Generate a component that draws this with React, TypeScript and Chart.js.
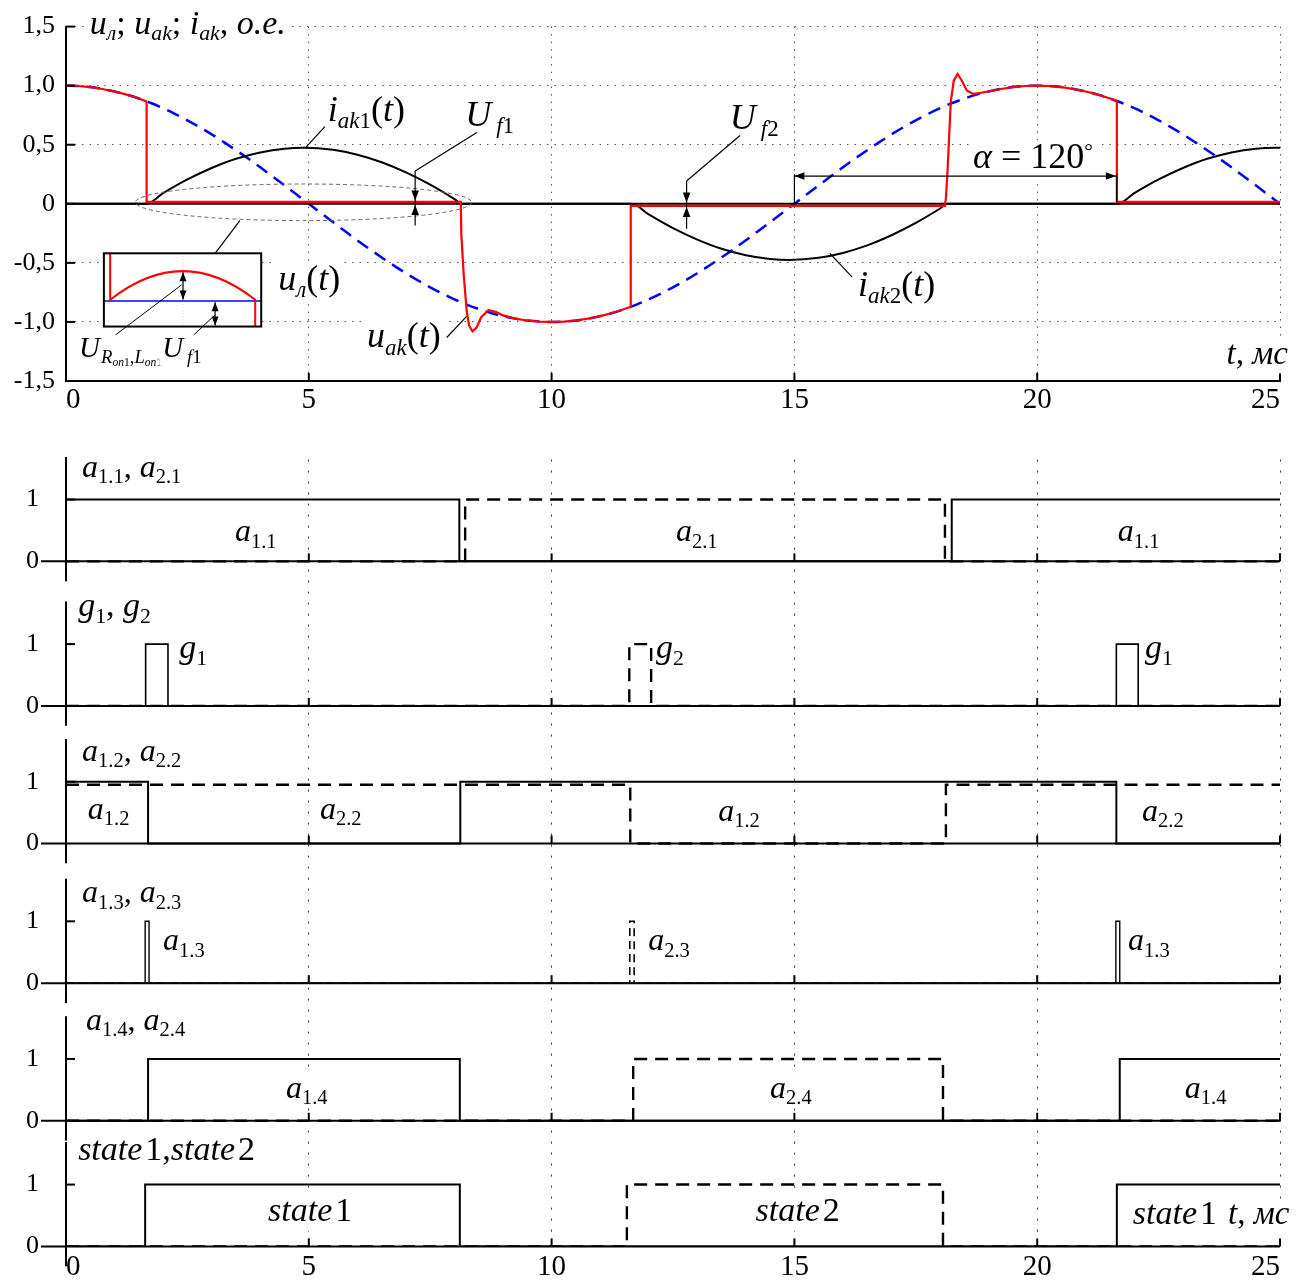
import React, { useEffect, useRef } from 'react';
import { Chart, registerables } from 'chart.js';

Chart.register(...registerables);

const SERIF = '"Liberation Serif", "Times New Roman", serif';
const RED = '#ff0000';
const BLUE = '#0000ff';

// ---------- Upper plot: voltages and currents, t in ms, values in p.u. ----------
const SAMPLE_STEP_MS = 0.25;

// line voltage u_л, one sample every 0.25 ms from 0 to 25 ms
const uLine = [
  1.000, 0.997, 0.988, 0.972, 0.951, 0.924, 0.891, 0.853, 0.809, 0.760, 0.707, 0.649, 0.588, 0.522, 0.454, 0.383, 0.309, 0.233, 0.156, 0.078, 0.000,
  -0.078, -0.156, -0.233, -0.309, -0.383, -0.454, -0.522, -0.588, -0.649, -0.707, -0.760, -0.809, -0.853, -0.891, -0.924, -0.951, -0.972, -0.988, -0.997, -1.000,
  -0.997, -0.988, -0.972, -0.951, -0.924, -0.891, -0.853, -0.809, -0.760, -0.707, -0.649, -0.588, -0.522, -0.454, -0.383, -0.309, -0.233, -0.156, -0.078, 0.000,
  0.078, 0.156, 0.233, 0.309, 0.383, 0.454, 0.522, 0.588, 0.649, 0.707, 0.760, 0.809, 0.853, 0.891, 0.924, 0.951, 0.972, 0.988, 0.997, 1.000,
  0.997, 0.988, 0.972, 0.951, 0.924, 0.891, 0.853, 0.809, 0.760, 0.707, 0.649, 0.588, 0.522, 0.454, 0.383, 0.309, 0.233, 0.156, 0.078, 0.000,
];

// anode-cathode voltage u_ak
const uAkTime = [
  0, 0.25, 0.5, 0.75, 1.0, 1.25, 1.5, 1.66, 1.66,
  8.13, 8.14, 8.19, 8.25, 8.3, 8.37, 8.45, 8.55, 8.7, 8.85, 9.0,
  9.25, 9.5, 9.75, 10, 10.25, 10.5, 10.75, 11, 11.25, 11.5, 11.63, 11.63,
  18.1, 18.12, 18.15, 18.19, 18.22, 18.28, 18.36, 18.45, 18.55, 18.68, 18.85, 19.0,
  19.25, 19.5, 19.75, 20, 20.25, 20.5, 20.75, 21, 21.25, 21.5, 21.64, 21.64, 25,
];
const uAkValue = [
  1.000, 0.997, 0.988, 0.972, 0.951, 0.924, 0.891, 0.866, 0.017,
  0.017, -0.25, -0.6, -0.9, -1.03, -1.08, -1.05, -0.96, -0.9, -0.915, -0.945,
  -0.972, -0.988, -0.997, -1.000, -0.997, -0.988, -0.972, -0.951, -0.924, -0.891, -0.871, -0.017,
  -0.017, 0.05, 0.25, 0.6, 0.86, 1.04, 1.10, 1.04, 0.96, 0.93, 0.94, 0.951,
  0.972, 0.988, 0.997, 1.000, 0.997, 0.988, 0.972, 0.951, 0.924, 0.891, 0.870, 0.017, 0.017,
];

// anode current i_ak (thyristor 1 positive, thyristor 2 negative)
const iAkTime = [
  0, 1.65, 2.0, 2.5, 3.0, 3.5, 4.0, 4.5, 4.9, 5.5, 6.0, 6.5, 7.0, 7.5, 8.0, 8.15,
  11.65, 12.0, 12.5, 13.0, 13.5, 14.0, 14.5, 14.9, 15.5, 16.0, 16.5, 17.0, 17.5, 18.0, 18.15,
  21.65, 22.0, 22.5, 23.0, 23.5, 24.0, 24.5, 24.9, 25,
];
const iAkValue = [
  0, 0, 0.090, 0.206, 0.303, 0.381, 0.435, 0.467, 0.475, 0.457, 0.416, 0.352, 0.266, 0.162, 0.040, 0,
  0, -0.090, -0.206, -0.303, -0.381, -0.435, -0.467, -0.475, -0.457, -0.416, -0.352, -0.266, -0.162, -0.040, 0,
  0, 0.090, 0.206, 0.303, 0.381, 0.435, 0.467, 0.475, 0.475,
];

const TIME_TICKS = [0, 5, 10, 15, 20, 25];
const VOLT_TICKS = [-1.5, -1, -0.5, 0, 0.5, 1, 1.5];
const VOLT_LABELS = ['-1,5', '-1,0', '-0,5', '0', '0,5', '1,0', '1,5'];

// ---------- Lower plot: logic signals (switching instants in ms, level held from each instant) ----------
const a11Time = [0, 8.1, 18.24, 25];
const a11Level = [1, 0, 1, 1];
const a21Time = [0, 8.22, 18.1, 25];
const a21Level = [0, 1, 0, 0];

const g1Time = [0, 1.64, 2.1, 21.63, 22.08, 25];
const g1Level = [0, 1, 0, 1, 0, 0];
const g2Time = [0, 11.6, 12.05, 25];
const g2Level = [0, 1, 0, 0];

const a12Time = [0, 1.69, 8.12, 21.63, 25];
const a12Level = [1, 0, 1, 0, 0];
const a22Time = [0, 11.62, 18.12, 25];
const a22Level = [0.95, 0, 0.95, 0.95];

const a13Time = [0, 1.63, 1.71, 21.62, 21.7, 25];
const a13Level = [0, 1, 0, 1, 0, 0];
const a23Time = [0, 11.61, 11.7, 25];
const a23Level = [0, 1, 0, 0];

const a14Time = [0, 1.69, 8.11, 21.7, 25];
const a14Level = [0, 1, 0, 1, 1];
const a24Time = [0, 11.68, 18.06, 25];
const a24Level = [0, 1, 0, 0];

const state1Time = [0, 1.63, 8.11, 21.64, 25];
const state1Level = [0, 1, 0, 1, 1];
const state2Time = [0, 11.55, 18.06, 25];
const state2Level = [0, 1, 0, 0];

// vertical placement of each signal strip on the shared lower y scale (1 unit = one logic level)
const PANEL_BASE = [11.08, 8.742, 6.516, 4.258, 2.032, 0];
const LOWER_Y_MAX = 12.726;

// ---------- text helpers ----------
type Run = { s: string; it?: boolean; sub?: 1 | 2; sup?: boolean; gap?: number };

function runStyle(r: Run, size: number) {
  let sz = size;
  let dy = 0;
  if (r.sub === 1) { sz = size * 0.64; dy = size * 0.2; }
  else if (r.sub === 2) { sz = size * 0.4; dy = size * 0.3; }
  else if (r.sup) { sz = size * 0.6; dy = -size * 0.28; }
  return { font: `${r.it ? 'italic ' : ''}${sz.toFixed(1)}px ${SERIF}`, dy };
}

function drawRich(ctx: CanvasRenderingContext2D, x: number, y: number, runs: Run[], size: number, bg: boolean) {
  ctx.save();
  ctx.textAlign = 'left';
  ctx.textBaseline = 'alphabetic';
  const widths = runs.map((r) => {
    const st = runStyle(r, size);
    ctx.font = st.font;
    return ctx.measureText(r.s).width + (r.gap || 0);
  });
  const total = widths.reduce((a, b) => a + b, 0);
  if (bg) {
    ctx.fillStyle = '#fff';
    ctx.fillRect(x - 3, y - size * 0.78, total + 6, size * 1.06);
  }
  ctx.fillStyle = '#000';
  let cx = x;
  runs.forEach((r, i) => {
    const st = runStyle(r, size);
    ctx.font = st.font;
    ctx.fillText(r.s, cx + (r.gap || 0), y + st.dy);
    cx += widths[i];
  });
  ctx.restore();
}

function strokeLine(ctx: CanvasRenderingContext2D, x1: number, y1: number, x2: number, y2: number) {
  ctx.beginPath();
  ctx.moveTo(x1, y1);
  ctx.lineTo(x2, y2);
  ctx.stroke();
}

function arrowHead(ctx: CanvasRenderingContext2D, x: number, y: number, dir: string, len = 10, half = 3.8) {
  ctx.beginPath();
  ctx.moveTo(x, y);
  if (dir === 'down') { ctx.lineTo(x - half, y - len); ctx.lineTo(x + half, y - len); }
  else if (dir === 'up') { ctx.lineTo(x - half, y + len); ctx.lineTo(x + half, y + len); }
  else if (dir === 'left') { ctx.lineTo(x + len, y - half); ctx.lineTo(x + len, y + half); }
  else { ctx.lineTo(x - len, y - half); ctx.lineTo(x - len, y + half); }
  ctx.closePath();
  ctx.fill();
}

const it = (s: string): Run => ({ s, it: true });
const up = (s: string): Run => ({ s });
const sub = (s: string, italic = false): Run => ({ s, it: italic, sub: 1 });

// ---------- annotations of the upper plot (positions in data units) ----------
const TOP_LABELS: { t: number; v: number; size: number; runs: Run[] }[] = [
  { t: 0.49, v: 1.44, size: 34, runs: [it('u'), sub('л', true), up('; '), it('u'), sub('ak', true), up('; '), it('i'), sub('ak', true), up(', '), it('o.e.')] },
  { t: 5.39, v: 0.704, size: 36, runs: [it('i'), sub('ak', true), sub('1'), up('('), it('t'), up(')')] },
  { t: 8.22, v: 0.662, size: 36, runs: [it('U'), { s: 'f', it: true, sub: 1, gap: 5 }, sub('1')] },
  { t: 4.37, v: -0.729, size: 36, runs: [it('u'), sub('л', true), up('('), it('t'), up(')')] },
  { t: 6.2, v: -1.215, size: 36, runs: [it('u'), sub('ak', true), up('('), it('t'), up(')')] },
  { t: 13.67, v: 0.637, size: 36, runs: [it('U'), { s: 'f', it: true, sub: 1, gap: 5 }, sub('2')] },
  { t: 18.68, v: 0.302, size: 36, runs: [it('α'), up(' = 120'), { s: '°', sup: true }] },
  { t: 16.31, v: -0.78, size: 36, runs: [it('i'), sub('ak', true), sub('2'), up('('), it('t'), up(')')] },
  { t: 23.9, v: -1.358, size: 33, runs: [it('t'), up(', '), it('мс')] },
  { t: 0.27, v: -1.30, size: 29, runs: [it('U'), { s: 'R', it: true, sub: 1, gap: 1 }, { s: 'on', it: true, sub: 2 }, { s: '1', sub: 2 }, sub(','), sub('L', true), { s: 'on', it: true, sub: 2 }, { s: '1', sub: 2 }] },
  { t: 1.98, v: -1.30, size: 29, runs: [it('U'), { s: 'f', it: true, sub: 1, gap: 4 }, sub('1')] },
];

const TOP_LEADERS: [number, number, number, number][] = [
  [5.33, 0.654, 4.94, 0.478],
  [8.46, 0.604, 7.19, 0.277],
  [13.88, 0.578, 12.78, 0.193],
  [3.58, -0.1425, 3.07, -0.419],
  [7.84, -1.132, 8.25, -0.953],
  [15.73, -0.419, 16.19, -0.62],
];

const topDecor = {
  id: 'topDecor',
  afterDraw(chart: any) {
    const ctx: CanvasRenderingContext2D = chart.ctx;
    const xs = chart.scales.x;
    const ys = chart.scales.y;
    const X = (t: number) => xs.getPixelForValue(t);
    const Y = (v: number) => ys.getPixelForValue(v);
    ctx.save();
    ctx.strokeStyle = '#000';
    ctx.fillStyle = '#000';

    // tick marks pointing into the plot
    ctx.lineWidth = 2;
    VOLT_TICKS.forEach((v) => strokeLine(ctx, X(0), Y(v), X(0) + 9, Y(v)));
    TIME_TICKS.forEach((t) => { if (t > 0) strokeLine(ctx, X(t), Y(-1.5), X(t), Y(-1.5) - 8); });

    // dashed ellipse marking the forward-drop region
    ctx.lineWidth = 1;
    ctx.strokeStyle = '#666';
    ctx.setLineDash([4, 3]);
    ctx.beginPath();
    ctx.ellipse(X(4.89), Y(0.0126), X(4.89 + 3.46) - X(4.89), Y(0) - Y(0.155), 0, 0, Math.PI * 2);
    ctx.stroke();
    ctx.setLineDash([]);

    // magnified view of the conduction interval
    const L = X(0.78), R = X(4.02), T = Y(-0.419), B = Y(-1.039);
    const W = R - L, H = B - T;
    ctx.fillStyle = '#fff';
    ctx.fillRect(L, T, W, H);
    ctx.strokeStyle = '#c8c8c8';
    ctx.lineWidth = 1;
    ctx.setLineDash([1, 2]);
    strokeLine(ctx, L + 0.503 * W, T, L + 0.503 * W, B);
    ctx.setLineDash([]);
    ctx.strokeStyle = BLUE;
    ctx.lineWidth = 1.5;
    strokeLine(ctx, L, T + 0.65 * H, R, T + 0.65 * H);
    ctx.strokeStyle = RED;
    ctx.lineWidth = 2;
    ctx.beginPath();
    ctx.moveTo(L + 0.04 * W, T);
    ctx.lineTo(L + 0.04 * W, T + 0.635 * H);
    ctx.quadraticCurveTo(L + 0.501 * W, T - 0.149 * H, L + 0.962 * W, T + 0.635 * H);
    ctx.lineTo(L + 0.962 * W, B);
    ctx.stroke();
    ctx.strokeStyle = '#000';
    ctx.fillStyle = '#000';
    ctx.lineWidth = 1.2;
    strokeLine(ctx, L + 0.503 * W, T + 0.26 * H, L + 0.503 * W, T + 0.63 * H);
    arrowHead(ctx, L + 0.503 * W, T + 0.26 * H, 'up', 9, 3.5);
    arrowHead(ctx, L + 0.503 * W, T + 0.63 * H, 'down', 9, 3.5);
    strokeLine(ctx, L + 0.707 * W, T + 0.67 * H, L + 0.707 * W, B - 1);
    arrowHead(ctx, L + 0.707 * W, T + 0.67 * H, 'up', 9, 3.5);
    arrowHead(ctx, L + 0.707 * W, B - 1, 'down', 9, 3.5);
    ctx.lineWidth = 2;
    ctx.strokeRect(L, T, W, H);
    ctx.lineWidth = 1;
    strokeLine(ctx, X(0.762), Y(-1.19), L + 0.495 * W, T + 0.43 * H);
    strokeLine(ctx, X(2.38), Y(-1.207), L + 0.707 * W, T + 0.84 * H);

    // text labels
    TOP_LABELS.forEach((l) => drawRich(ctx, X(l.t), Y(l.v), l.runs, l.size, true));

    // leader lines
    ctx.strokeStyle = '#000';
    ctx.fillStyle = '#000';
    ctx.lineWidth = 1.2;
    TOP_LEADERS.forEach(([t1, v1, t2, v2]) => strokeLine(ctx, X(t1), Y(v1), X(t2), Y(v2)));

    // forward drop U_f1
    strokeLine(ctx, X(7.19), Y(0.277), X(7.19), Y(-0.184));
    arrowHead(ctx, X(7.19), Y(0.028), 'down');
    arrowHead(ctx, X(7.19), Y(-0.01), 'up');
    // forward drop U_f2
    strokeLine(ctx, X(12.78), Y(0.193), X(12.78), Y(-0.21));
    arrowHead(ctx, X(12.78), Y(0.01), 'down');
    arrowHead(ctx, X(12.78), Y(-0.028), 'up');

    // firing angle
    strokeLine(ctx, X(15), Y(0.25), X(15), Y(0));
    strokeLine(ctx, X(21.64), Y(0.25), X(21.64), Y(0.01));
    strokeLine(ctx, X(15), Y(0.235), X(21.62), Y(0.235));
    arrowHead(ctx, X(15), Y(0.235), 'left');
    arrowHead(ctx, X(21.62), Y(0.235), 'right');

    ctx.restore();
  },
};

// ---------- annotations of the lower plot ----------
const aName = (n: string): Run[] => [it('a'), sub(n)];
const gName = (n: string): Run[] => [it('g'), sub(n)];
const stateName = (n: string): Run[] => [it('state'), { s: n, gap: 3 }];

const BOTTOM_LABELS: { p: number; t: number; r: number; size: number; runs: Run[] }[] = [
  { p: 0, t: 0.33, r: 1.371, size: 32, runs: [...aName('1.1'), up(', '), ...aName('2.1')] },
  { p: 0, t: 3.48, r: 0.323, size: 32, runs: aName('1.1') },
  { p: 0, t: 12.56, r: 0.323, size: 32, runs: aName('2.1') },
  { p: 0, t: 21.66, r: 0.323, size: 32, runs: aName('1.1') },

  { p: 1, t: 0.25, r: 1.45, size: 34, runs: [...gName('1'), up(', '), ...gName('2')] },
  { p: 1, t: 2.33, r: 0.774, size: 34, runs: gName('1') },
  { p: 1, t: 12.15, r: 0.774, size: 34, runs: gName('2') },
  { p: 1, t: 22.22, r: 0.774, size: 34, runs: gName('1') },

  { p: 2, t: 0.33, r: 1.339, size: 32, runs: [...aName('1.2'), up(', '), ...aName('2.2')] },
  { p: 2, t: 0.45, r: 0.403, size: 32, runs: aName('1.2') },
  { p: 2, t: 5.23, r: 0.403, size: 32, runs: aName('2.2') },
  { p: 2, t: 13.43, r: 0.37, size: 32, runs: aName('1.2') },
  { p: 2, t: 22.16, r: 0.37, size: 32, runs: aName('2.2') },

  { p: 3, t: 0.33, r: 1.306, size: 32, runs: [...aName('1.3'), up(', '), ...aName('2.3')] },
  { p: 3, t: 2.0, r: 0.532, size: 32, runs: aName('1.3') },
  { p: 3, t: 11.99, r: 0.532, size: 32, runs: aName('2.3') },
  { p: 3, t: 21.87, r: 0.532, size: 32, runs: aName('1.3') },

  { p: 4, t: 0.41, r: 1.468, size: 32, runs: [...aName('1.4'), up(', '), ...aName('2.4')] },
  { p: 4, t: 4.53, r: 0.371, size: 32, runs: aName('1.4') },
  { p: 4, t: 14.5, r: 0.371, size: 32, runs: aName('2.4') },
  { p: 4, t: 23.04, r: 0.371, size: 32, runs: aName('1.4') },

  { p: 5, t: 0.25, r: 1.403, size: 34, runs: [...stateName('1'), up(','), ...stateName('2')] },
  { p: 5, t: 4.16, r: 0.403, size: 34, runs: stateName('1') },
  { p: 5, t: 14.2, r: 0.403, size: 34, runs: stateName('2') },
  { p: 5, t: 21.97, r: 0.355, size: 34, runs: stateName('1') },
  { p: 5, t: 23.93, r: 0.355, size: 33, runs: [it('t'), up(', '), it('мс')] },
];

const bottomDecor = {
  id: 'bottomDecor',
  beforeDatasetsDraw(chart: any) {
    const ctx: CanvasRenderingContext2D = chart.ctx;
    const X = (t: number) => chart.scales.x.getPixelForValue(t);
    const Y = (v: number) => chart.scales.y.getPixelForValue(v);
    ctx.save();
    ctx.strokeStyle = '#000';
    ctx.lineWidth = 2;
    PANEL_BASE.forEach((b) => {
      strokeLine(ctx, X(0), Y(b + 1.69), X(0), Y(b - 0.32));
      strokeLine(ctx, X(-0.515), Y(b), X(25), Y(b));
      strokeLine(ctx, X(0), Y(b + 1), X(0) + 9, Y(b + 1));
      TIME_TICKS.forEach((t) => { if (t > 0) strokeLine(ctx, X(t), Y(b), X(t), Y(b) - 8); });
    });
    ctx.restore();
  },
  afterDatasetsDraw(chart: any) {
    const ctx: CanvasRenderingContext2D = chart.ctx;
    const X = (t: number) => chart.scales.x.getPixelForValue(t);
    const Y = (v: number) => chart.scales.y.getPixelForValue(v);
    BOTTOM_LABELS.forEach((l) => drawRich(ctx, X(l.t), Y(PANEL_BASE[l.p] + l.r), l.runs, l.size, true));
  },
};

function seriesPoints(time: number[], values: number[], offset = 0) {
  return time.map((t, i) => ({ x: t, y: values[i] + offset }));
}

const TRANSPARENT = 'rgba(0,0,0,0)';

export default function App() {
  const topRef = useRef<HTMLCanvasElement>(null);
  const bottomRef = useRef<HTMLCanvasElement>(null);

  useEffect(() => {
    const topChart = new Chart(topRef.current as HTMLCanvasElement, {
      type: 'line',
      data: {
        datasets: [
          { label: 'u_ak', data: seriesPoints(uAkTime, uAkValue), borderColor: RED, borderWidth: 2.2, pointRadius: 0, tension: 0 },
          { label: '0', data: [{ x: 0, y: 0 }, { x: 25, y: 0 }], borderColor: '#000', borderWidth: 2, pointRadius: 0 },
          { label: 'i_ak', data: seriesPoints(iAkTime, iAkValue), borderColor: '#000', borderWidth: 2, pointRadius: 0, cubicInterpolationMode: 'monotone' },
          { label: 'u_л', data: uLine.map((v, i) => ({ x: i * SAMPLE_STEP_MS, y: v })), borderColor: BLUE, borderWidth: 2.5, borderDash: [13, 8], pointRadius: 0, cubicInterpolationMode: 'monotone' },
        ],
      } as any,
      options: {
        responsive: false,
        animation: false,
        devicePixelRatio: 1,
        events: [],
        layout: { padding: { top: 24, right: 31, left: 0, bottom: 0 } },
        plugins: { legend: { display: false }, tooltip: { enabled: false } },
        scales: {
          x: {
            type: 'linear', min: 0, max: 25,
            afterFit: (s: any) => { s.height = 44; },
            afterBuildTicks: (s: any) => { s.ticks = TIME_TICKS.map((v) => ({ value: v })); },
            ticks: { font: { family: SERIF, size: 29 }, color: '#000', padding: 2, maxRotation: 0, autoSkip: false, align: 'inner' },
            grid: { color: (c: any) => (c.tick && c.tick.value === 0 ? TRANSPARENT : '#555'), lineWidth: 1, drawTicks: false },
            border: { display: true, color: '#000', width: 2, dash: [1.5, 6] },
          },
          y: {
            type: 'linear', min: -1.5, max: 1.5,
            afterFit: (s: any) => { s.width = 66; },
            afterBuildTicks: (s: any) => { s.ticks = VOLT_TICKS.map((v) => ({ value: v })); },
            ticks: { font: { family: SERIF, size: 26 }, color: '#000', padding: 11, autoSkip: false, callback: (v: any) => VOLT_LABELS[VOLT_TICKS.indexOf(Number(v))] },
            grid: { color: (c: any) => (c.tick && (c.tick.value === -1.5 || c.tick.value === 0) ? TRANSPARENT : '#555'), lineWidth: 1, drawTicks: false },
            border: { display: true, color: '#000', width: 2, dash: [1.5, 6] },
          },
        },
      } as any,
      plugins: [topDecor],
    });

    const stepLine = (time: number[], level: number[], base: number, dashed: boolean, width = 2) => ({
      data: seriesPoints(time, level, base),
      stepped: true,
      borderColor: '#000',
      borderWidth: dashed ? 2.4 : width,
      borderDash: dashed ? [13, 8] : [],
      pointRadius: 0,
    });

    const bottomChart = new Chart(bottomRef.current as HTMLCanvasElement, {
      type: 'line',
      data: {
        datasets: [
          stepLine(a11Time, a11Level, PANEL_BASE[0], false),
          stepLine(a21Time, a21Level, PANEL_BASE[0], true),
          stepLine(g1Time, g1Level, PANEL_BASE[1], false, 1.6),
          stepLine(g2Time, g2Level, PANEL_BASE[1], true),
          stepLine(a12Time, a12Level, PANEL_BASE[2], false),
          stepLine(a22Time, a22Level, PANEL_BASE[2], true),
          stepLine(a13Time, a13Level, PANEL_BASE[3], false, 1.4),
          { ...stepLine(a23Time, a23Level, PANEL_BASE[3], true), borderWidth: 1.6, borderDash: [8, 5] },
          stepLine(a14Time, a14Level, PANEL_BASE[4], false),
          stepLine(a24Time, a24Level, PANEL_BASE[4], true),
          stepLine(state1Time, state1Level, PANEL_BASE[5], false),
          stepLine(state2Time, state2Level, PANEL_BASE[5], true),
        ],
      } as any,
      options: {
        responsive: false,
        animation: false,
        devicePixelRatio: 1,
        events: [],
        layout: { padding: { top: 33, right: 31, left: 0, bottom: 0 } },
        plugins: { legend: { display: false }, tooltip: { enabled: false } },
        scales: {
          x: {
            type: 'linear', min: 0, max: 25,
            afterFit: (s: any) => { s.height = 34; },
            afterBuildTicks: (s: any) => { s.ticks = TIME_TICKS.map((v) => ({ value: v })); },
            ticks: { font: { family: SERIF, size: 29 }, color: '#000', padding: 4, maxRotation: 0, autoSkip: false, align: 'inner' },
            grid: { color: (c: any) => (c.tick && c.tick.value === 0 ? TRANSPARENT : '#333'), lineWidth: 1, drawTicks: false },
            border: { display: false, dash: [2, 9] },
          },
          y: {
            type: 'linear', min: 0, max: LOWER_Y_MAX,
            afterFit: (s: any) => { s.width = 66; },
            afterBuildTicks: (s: any) => { s.ticks = PANEL_BASE.flatMap((b) => [{ value: b }, { value: b + 1 }]); },
            ticks: {
              font: { family: SERIF, size: 26 }, color: '#000', padding: 19, autoSkip: false,
              callback: (v: any) => (PANEL_BASE.some((b) => Math.abs(b - Number(v)) < 1e-6) ? '0' : '1'),
            },
            grid: { display: false },
            border: { display: false },
          },
        },
      } as any,
      plugins: [bottomDecor],
    });

    return () => {
      topChart.destroy();
      bottomChart.destroy();
    };
  }, []);

  return (
    <div style={{ position: 'absolute', left: 0, top: 0, width: 1311, height: 1281, background: '#fff' }}>
      <canvas ref={topRef} width={1311} height={425} style={{ position: 'absolute', left: 0, top: 0, width: 1311, height: 425 }} />
      <canvas ref={bottomRef} width={1311} height={856} style={{ position: 'absolute', left: 0, top: 425, width: 1311, height: 856 }} />
    </div>
  );
}
